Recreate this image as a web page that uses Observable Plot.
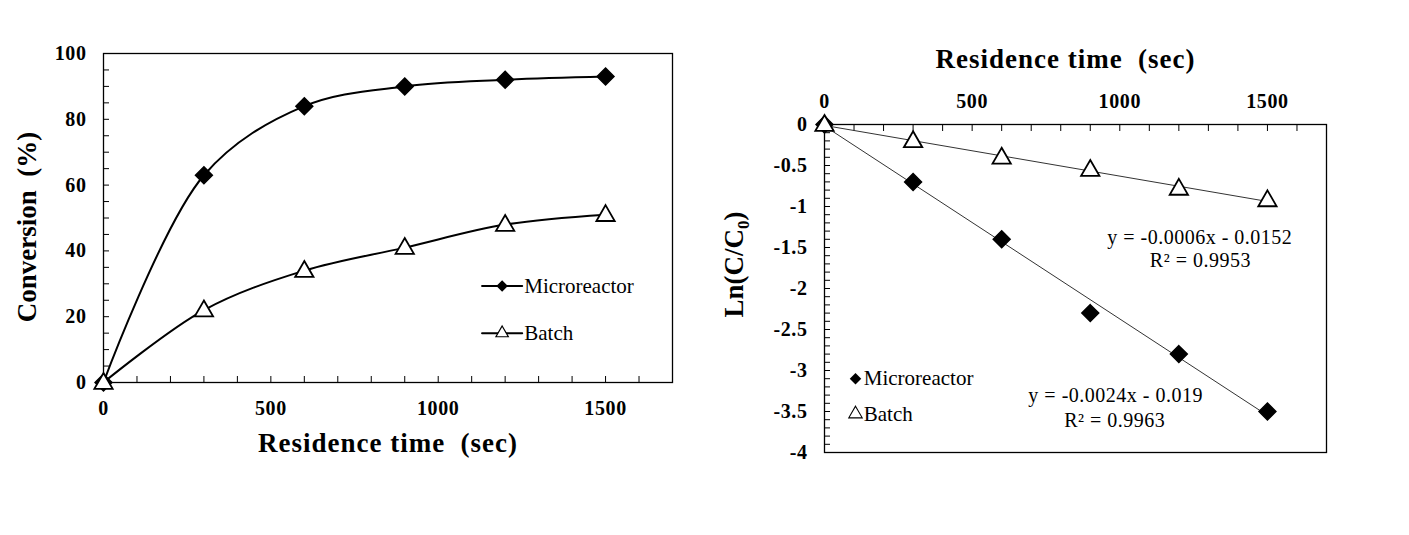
<!DOCTYPE html>
<html>
<head>
<meta charset="utf-8">
<script src="https://cdn.jsdelivr.net/npm/d3@7"></script>
<script src="https://cdn.jsdelivr.net/npm/@observablehq/plot@0.6"></script>
<style>
  html, body { margin: 0; padding: 0; background: #fff; }
  #wrap { display: flex; width: 1409px; height: 535px; }
  svg { display: block; }
</style>
</head>
<body>
<div id="wrap"></div>
<script>
// ---- data ----
const times = [0, 300, 600, 900, 1200, 1500];
const convMicro = [0, 63, 84, 90, 92, 93];
const convBatch = [0, 22, 34, 41, 48, 51];
const lnMicro = [0, -0.7, -1.4, -2.3, -2.8, -3.5];
const lnBatch = [0, -0.2, -0.4, -0.55, -0.78, -0.92];
const seriesNames = ["Microreactor", "Batch"];
const xTickLabels = [0, 500, 1000, 1500];
const convTickLabels = [0, 20, 40, 60, 80, 100];
const lnTickLabels = [0, -0.5, -1, -1.5, -2, -2.5, -3, -3.5, -4];
const eqBatch = ["y = -0.0006x - 0.0152", "R\u00B2 = 0.9953"];
const eqMicro = ["y = -0.0024x - 0.019", "R\u00B2 = 0.9963"];
const xTitle = "Residence time  (sec)";
const yTitleLeft = "Conversion  (%)";
const yTitleRight = "Ln(C/C0)";

const FONT = "'Liberation Serif', 'DejaVu Serif', serif";
const leftMicro = times.map((t, i) => ({t, v: convMicro[i]}));
const leftBatch = times.map((t, i) => ({t, v: convBatch[i]}));
const rightMicro = times.map((t, i) => ({t, v: lnMicro[i]}));
const rightBatch = times.map((t, i) => ({t, v: lnBatch[i]}));
const fmt = d => String(d);

// ---- left chart ----
const left = Plot.plot({
  width: 700, height: 535,
  marginLeft: 103, marginRight: 28, marginTop: 53, marginBottom: 153,
  style: {background: "white", color: "black", fontFamily: FONT},
  x: {domain: [0, 1700], label: null},
  y: {domain: [0, 100], label: null},
  marks: [
    Plot.axisX(d3.range(100, 1800, 100), {tickSize: -6, tickFormat: () => "", label: null, strokeWidth: 1}),
    Plot.axisX(xTickLabels, {tickSize: 0, tickPadding: 18, fontSize: 20, fontWeight: "bold", label: null, tickFormat: fmt}),
    Plot.axisY(d3.range(5, 100, 5), {tickSize: -6, tickFormat: () => "", label: null}),
    Plot.axisY(convTickLabels, {tickSize: 0, tickPadding: 17, fontSize: 20, fontWeight: "bold", label: null, tickFormat: fmt}),
    Plot.frame({stroke: "black", strokeWidth: 1.3}),
    Plot.line(leftMicro, {x: "t", y: "v", curve: "catmull-rom", stroke: "black", strokeWidth: 2}),
    Plot.line(leftBatch, {x: "t", y: "v", curve: "catmull-rom", stroke: "black", strokeWidth: 2}),
    Plot.dot(leftMicro, {x: "t", y: "v", symbol: "diamond2", r: 7.6, fill: "black", stroke: "black"}),
    Plot.dot(leftBatch, {x: "t", y: "v", symbol: "triangle", r: 6.8, fill: "white", stroke: "black", strokeWidth: 1.8, dy: 1}),
    // legend
    Plot.line([[1131, 29.3], [1251, 29.3]], {stroke: "black", strokeWidth: 2}),
    Plot.dot([[1191, 29.3]], {symbol: "diamond2", r: 5.2, fill: "black"}),
    Plot.line([[1131, 15], [1251, 15]], {stroke: "black", strokeWidth: 2}),
    Plot.dot([[1191, 15]], {symbol: "triangle", r: 4.6, fill: "white", stroke: "black", strokeWidth: 1.2}),
    Plot.text([seriesNames[0]], {x: 1257, y: 29.3, text: d => d, textAnchor: "start", fontSize: 21, lineAnchor: "middle"}),
    Plot.text([seriesNames[1]], {x: 1257, y: 15, text: d => d, textAnchor: "start", fontSize: 21, lineAnchor: "middle"}),
    // axis titles
    Plot.text([xTitle], {frameAnchor: "bottom", text: d => d, dy: 69, lineAnchor: "bottom", fontSize: 27, fontWeight: "bold"}),
    Plot.text([yTitleLeft], {frameAnchor: "left", text: d => d, rotate: -90, textAnchor: "middle", dx: -76, dy: 9, fontSize: 27, fontWeight: "bold", lineAnchor: "middle"})
  ]
});

// ---- right chart ----
const right = Plot.plot({
  width: 709, height: 535,
  marginLeft: 124, marginRight: 83, marginTop: 124, marginBottom: 83,
  style: {background: "white", color: "black", fontFamily: FONT},
  x: {domain: [0, 1700], label: null, axis: null},
  y: {domain: [-4, 0], label: null, axis: null},
  marks: [
    Plot.axisX(d3.range(100, 1800, 100), {anchor: "top", tickSize: -6, tickFormat: () => "", label: null}),
    Plot.axisX(xTickLabels, {anchor: "top", tickSize: 0, tickPadding: 17, fontSize: 20, fontWeight: "bold", label: null, tickFormat: fmt}),
    Plot.axisY(d3.range(-39, 0, 1).map(d => d / 10), {tickSize: -6, tickFormat: () => "", label: null}),
    Plot.axisY(lnTickLabels, {tickSize: 0, tickPadding: 17, fontSize: 20, fontWeight: "bold", label: null, tickFormat: fmt}),
    Plot.frame({stroke: "black", strokeWidth: 1.3}),
    Plot.linearRegressionY(rightMicro, {x: "t", y: "v", ci: 0, stroke: "#333", strokeWidth: 1}),
    Plot.linearRegressionY(rightBatch, {x: "t", y: "v", ci: 0, stroke: "#333", strokeWidth: 1}),
    Plot.dot(rightMicro, {x: "t", y: "v", symbol: "diamond2", r: 7.6, fill: "black", stroke: "black"}),
    Plot.dot(rightBatch, {x: "t", y: "v", symbol: "triangle", r: 6.8, fill: "white", stroke: "black", strokeWidth: 1.8, dy: 1}),
    // equations
    Plot.text([eqBatch[0]], {x: 1271, y: -1.452, text: d => d, fontSize: 20, lineAnchor: "bottom"}),
    Plot.text([eqBatch[1]], {x: 1273, y: -1.74, text: d => d, fontSize: 20, lineAnchor: "bottom"}),
    Plot.text([eqMicro[0]], {x: 986, y: -3.384, text: d => d, fontSize: 20, lineAnchor: "bottom"}),
    Plot.text([eqMicro[1]], {x: 983, y: -3.688, text: d => d, fontSize: 20, lineAnchor: "bottom"}),
    // legend
    Plot.dot([[105, -3.1]], {symbol: "diamond2", r: 5.2, fill: "black"}),
    Plot.dot([[105, -3.53]], {symbol: "triangle", r: 5, fill: "white", stroke: "black", strokeWidth: 1.1}),
    Plot.text([seriesNames[0]], {x: 133, y: -3.1, text: d => d, textAnchor: "start", fontSize: 21, lineAnchor: "middle"}),
    Plot.text([seriesNames[1]], {x: 133, y: -3.53, text: d => d, textAnchor: "start", fontSize: 21, lineAnchor: "middle"}),
    // titles
    Plot.text([xTitle], {frameAnchor: "top", text: d => d, dx: -10, dy: -57, lineAnchor: "bottom", fontSize: 27, fontWeight: "bold"}),
    Plot.text([yTitleRight], {frameAnchor: "left", text: d => d, rotate: -90, textAnchor: "middle", dx: -90, dy: -24, fontSize: 27, fontWeight: "bold", lineAnchor: "middle"})
  ]
});

// letter spacing to mimic the reference's slightly wide type, and the C0 subscript
for (const svg of [left, right]) {
  svg.setAttribute("font-family", FONT);
  d3.select(svg).selectAll("text").each(function() {
    const s = this.textContent;
    this.setAttribute("font-family", FONT);
    let ls = 0;
    if (s === xTitle) ls = 1;
    else if (eqBatch.includes(s) || eqMicro.includes(s)) ls = 0.5;
    else if (/^-?[\d.]+$/.test(s)) ls = 0.6;
    this.style.letterSpacing = ls + "px";
    if (s === yTitleRight) {
      const t = d3.select(this);
      t.text(null);
      t.append("tspan").text("Ln(C/C");
      t.append("tspan").attr("dy", 6).attr("font-size", 17).text("0");
      t.append("tspan").attr("dy", -6).text(")");
    }
  });
}

document.getElementById("wrap").append(left, right);
</script>
</body>
</html>
